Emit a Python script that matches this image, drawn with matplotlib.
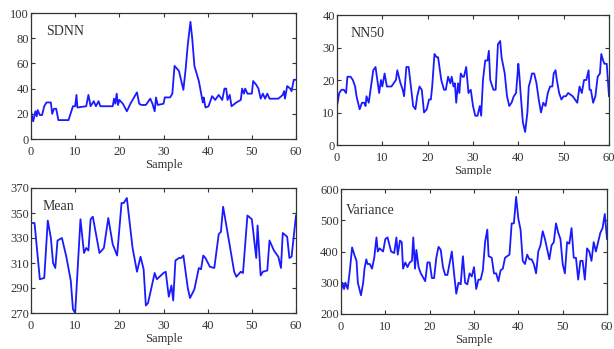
import matplotlib
matplotlib.use("Agg")
import matplotlib.pyplot as plt
from matplotlib.transforms import Bbox

plt.rcParams['font.family'] = ['Liberation Serif', 'DejaVu Serif']

# ---------------- data ----------------
sdnn_x = [0, 0.5, 1, 1.3, 1.5, 2, 2.5, 3, 3.5, 4.5, 4.8, 5.2, 5.7, 6.2, 8.5, 9.5, 10, 10.3, 10.5,
          12.5, 13, 13.5, 14.2, 14.7, 15.3, 15.7, 18.5, 18.8, 19.1, 19.4, 19.7, 20, 20.8, 21.7,
          22.5, 24, 24.5, 25, 26, 27, 27.5, 28, 28.3, 28.7, 30, 30.3, 31.5, 32, 32.5, 33.5, 34.5,
          35, 35.5, 36.1, 36.5, 37, 38, 38.9, 39.1, 39.5, 40.2, 41, 41.7, 42.5, 43.3, 43.8, 44.2,
          44.5, 45, 45.4, 46.5, 47.5, 47.8, 48.2, 48.5, 49, 50, 50.3, 51, 51.5, 52, 52.5, 53, 53.5,
          54, 56, 57, 57.3, 57.5, 58, 58.7, 59, 59.5, 60]
sdnn_y = [22, 14, 22, 18, 23, 19, 19, 26, 29, 29, 20, 24, 24, 15, 15, 26, 26, 35, 25,
          26, 35, 26, 30, 26, 30, 26, 26, 32, 28, 36, 27, 31, 28, 22,
          28, 37, 28, 27, 27, 32, 28, 22, 33, 27, 28, 33, 33, 36, 58, 54, 39,
          55, 75, 93, 80, 58, 46, 29, 33, 25, 26, 34, 31, 35, 31, 40, 40,
          31, 35, 26, 29, 31, 40, 36, 40, 36, 36, 46, 43, 40, 32, 36, 32, 36,
          32, 32, 35, 38, 32, 42, 40, 38, 47, 47]

nn50_x = [0, 0.5, 1, 1.5, 2, 2.3, 3, 3.5, 4, 4.3, 5, 5.5, 6, 6.3, 6.5, 7, 7.5, 8, 8.5, 9, 9.3,
          9.7, 10, 10.5, 11, 12, 13, 13.3, 14, 14.5, 14.8, 15.3, 15.8, 16.3, 16.8, 17.3, 17.7,
          18.2, 18.7, 19.2, 19.8, 20.3, 20.7, 21, 21.5, 22, 22.3, 22.6, 23, 23.6, 24, 24.5, 25,
          25.3, 25.7, 26, 26.3, 26.7, 27, 27.3, 27.7, 28, 28.5, 29, 29.5, 30, 30.5, 31, 31.5,
          31.8, 32.2, 32.7, 33.2, 33.5, 33.8, 34.5, 35, 35.5, 36, 36.3, 37, 37.5, 38, 38.5, 39,
          39.5, 40, 40.2, 40.5, 41, 41.5, 42, 42.3, 42.7, 43, 43.5, 44, 44.5, 45, 45.5, 46, 46.5,
          47, 47.5, 47.8, 48.2, 48.5, 49, 49.5, 50, 50.5, 51, 52, 52.5, 53, 53.5, 54, 54.5, 55,
          55.5, 55.7, 56, 56.5, 57, 57.5, 58, 58.3, 58.7, 59, 59.5, 60]
nn50_y = [12, 16, 17, 17, 16, 21, 21, 20, 18, 15, 11, 13, 13, 12, 15, 13, 18, 23, 24, 19, 16,
          20, 18, 22, 18, 18, 20, 23, 19, 17, 15, 24, 24, 18, 12, 11, 15,
          18, 17, 10, 11, 14, 14, 18, 28, 27, 27, 24, 20, 17, 17, 21, 19,
          21, 18, 19, 13, 19, 16, 22, 21, 21, 24, 16, 17, 12, 9, 9, 12,
          9, 20, 26, 26, 29, 20, 17, 17, 31, 32, 27, 22, 15, 12, 13, 15,
          16, 25, 22, 16, 7, 4, 10, 18, 20, 22, 22, 19, 14, 10, 13, 12, 16,
          18, 18, 22, 23, 20, 16, 14, 15, 15, 16, 15, 14, 13, 18, 16, 20, 20,
          23, 17, 17, 13, 15, 21, 22, 28, 26, 25, 25, 15]

mean_x = [0, 0.8, 2, 3, 3.8, 4.5, 5, 5.5, 6, 7, 8, 9, 9.5, 10, 11.2, 12, 12.5, 13, 13.5, 14,
          15.5, 16.5, 17.5, 18.5, 19.5, 20.5, 21, 21.7, 23, 24, 24.8, 25.5, 26, 26.5, 28, 28.5,
          30, 30.5, 31.2, 31.8, 32.2, 32.7, 33.5, 34, 34.5, 35.5, 36, 37, 38, 38.5, 39, 39.5,
          40.5, 41.5, 42.5, 43, 43.5, 45, 46, 46.5, 47.5, 48, 49, 50, 51, 51.3, 52, 52.5, 53.5,
          54, 55, 56, 56.6, 57, 58, 58.5, 59, 60]
mean_y = [342, 342, 297, 298, 344, 330, 310, 306, 328, 330, 315, 296, 273, 270, 345, 318, 322,
          320, 345, 347, 318, 322, 346, 325, 316, 358, 358, 362, 322, 303, 315, 305, 276, 278,
          302, 297, 302, 303, 283, 292, 280, 312, 314, 314, 316, 290, 282, 289, 306, 305, 316,
          314, 307, 306, 333, 335, 355, 324, 303, 299, 303, 302, 348, 345, 314, 340, 300, 303,
          304, 328, 320, 315, 306, 334, 331, 314, 315, 348]

var_x = [0, 0.3, 0.7, 1, 1.5, 2, 2.5, 3, 3.5, 3.8, 4.5, 5, 5.3, 5.7, 6, 6.5, 7, 7.5, 8, 8.3,
         8.7, 9.5, 10, 10.5, 11.3, 12, 12.5, 12.8, 13.3, 13.7, 14, 14.5, 15, 15.5, 16, 16.3,
         16.7, 17, 17.5, 18, 19, 19.5, 20, 20.5, 21, 21.5, 22, 22.5, 23, 23.5, 24, 25, 25.5, 26,
         26.5, 27, 27.5, 28, 28.5, 29, 29.5, 30, 30.5, 31, 31.5, 32, 32.5, 33, 33.3, 34, 34.5,
         35, 35.5, 36, 36.5, 37, 38, 38.5, 39, 39.5, 40, 40.5, 41, 41.5, 42, 42.5, 43, 43.5, 44,
         44.5, 45, 45.5, 46, 47, 47.5, 48, 48.5, 49, 49.5, 50, 50.5, 51, 51.5, 52, 52.5, 53,
         53.5, 54, 54.5, 55, 55.5, 56, 56.5, 57, 57.5, 58, 58.5, 59, 59.5, 60]
var_y = [270, 300, 280, 300, 280, 340, 413, 390, 370, 300, 260, 300, 345, 375, 360, 360, 345,
         380, 445, 400, 410, 400, 440, 445, 400, 395, 445, 390, 435, 430, 345, 365, 350, 365,
         370, 445, 345, 405, 350, 330, 305, 365, 365, 315, 315, 380, 415, 405, 350, 325, 325,
         400, 330, 265, 300, 295, 385, 300, 295, 330, 320, 350, 280, 310, 310, 340, 430, 470,
         385, 380, 330, 330, 305, 340, 345, 380, 390, 490, 490, 575, 505, 470, 370, 360, 390,
         375, 375, 360, 330, 400, 420, 465, 440, 375, 420, 430, 490, 460, 440, 360, 330, 430,
         425, 475, 380, 380, 310, 370, 370, 310, 410, 400, 370, 430, 400, 430, 460, 475, 520,
         440]

x_ticks = [0, 10, 20, 30, 40, 50, 60]
panels = [
    ("SDNN", sdnn_x, sdnn_y, (0, 100), [0, 20, 40, 60, 80, 100]),
    ("NN50", nn50_x, nn50_y, (0, 40), [0, 10, 20, 30, 40]),
    ("Mean", mean_x, mean_y, (270, 370), [270, 290, 310, 330, 350, 370]),
    ("Variance", var_x, var_y, (200, 600), [200, 300, 400, 500, 600]),
]

# ---------------- layout ----------------
W, H = 614, 349
boxes_px = [(31, 13, 296, 139), (337, 15, 609, 145), (31, 188, 296, 313), (341, 189, 607, 314)]
name_pos = [(0.057, 0.85), (0.048, 0.86), (0.045, 0.856), (0.02, 0.83)]

fig = plt.figure(figsize=(W / 100, H / 100), dpi=100)
text_color = '#333333'
line_color = '#1a1aff'

for (name, xs, ys, ylim, yt), (l, t, r, b), (nx, ny) in zip(panels, boxes_px, name_pos):
    ax = fig.add_axes([l / W, 1 - b / H, (r - l) / W, (b - t) / H])
    ax.plot(xs, ys, color=line_color, lw=1.3)
    ax.set_xlim(0, 60)
    ax.set_ylim(*ylim)
    ax.set_xticks(x_ticks)
    ax.set_yticks(yt)
    ax.tick_params(direction='in', top=True, right=True, length=3, width=0.8,
                   labelsize=9, colors=text_color)
    ax.tick_params(axis='x', pad=5)
    ax.tick_params(axis='y', pad=1.5)
    for s in ax.spines.values():
        s.set_color('#333333')
        s.set_linewidth(0.9)
    ax.text(nx, ny, name, transform=ax.transAxes, fontsize=10, color=text_color, va='center')
    lab = ax.set_xlabel("Sample", fontsize=9, color=text_color, labelpad=1)
    if name == "NN50":
        lab.set_clip_box(Bbox.from_extents(0, H - 175, W, H))
        lab.set_clip_on(True)

fig.savefig("out.png", dpi=100)
